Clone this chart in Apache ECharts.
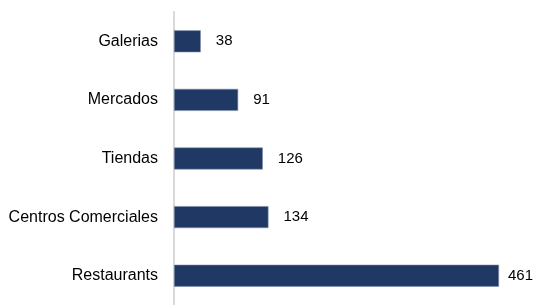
<!DOCTYPE html>
<html>
<head>
<meta charset="utf-8">
<script src="https://cdn.jsdelivr.net/npm/echarts@6/dist/echarts.min.js"></script>
<style>
  html, body { margin: 0; padding: 0; background: #fff; }
  #chart { width: 535px; height: 305px; }
</style>
</head>
<body>
<div id="chart"></div>
<script>
// Data, top to bottom
const categories = ["Galerias", "Mercados", "Tiendas", "Centros Comerciales", "Restaurants"];
const counts = [38, 91, 126, 134, 461];

const chart = echarts.init(document.getElementById("chart"));

// the long bar's label sits closer to its bar so it fits in the frame
const barData = counts.map((v, i) =>
  i === counts.length - 1 ? { value: v, label: { distance: 9 } } : v
);

chart.setOption({
  animation: false,
  grid: { left: 174, top: 12, width: 352.5, height: 302.5 },
  xAxis: {
    type: "value",
    min: 0,
    max: 500,
    show: false
  },
  yAxis: {
    type: "category",
    data: categories,
    inverse: true,
    offset: 1,
    axisLine: { show: true, lineStyle: { color: "#d9d9d9", width: 2 } },
    axisTick: { show: false },
    axisLabel: {
      margin: 15,
      color: "#000",
      fontFamily: "Liberation Sans",
      fontSize: 16
    }
  },
  series: [{
    type: "bar",
    data: barData,
    barWidth: 22,
    itemStyle: { color: "#203864", borderColor: "#7f8fab", borderWidth: 0.6 },
    label: {
      show: true,
      position: "right",
      distance: 15,
      color: "#000",
      fontFamily: "Liberation Sans",
      fontSize: 15
    }
  }]
});
</script>
</body>
</html>
